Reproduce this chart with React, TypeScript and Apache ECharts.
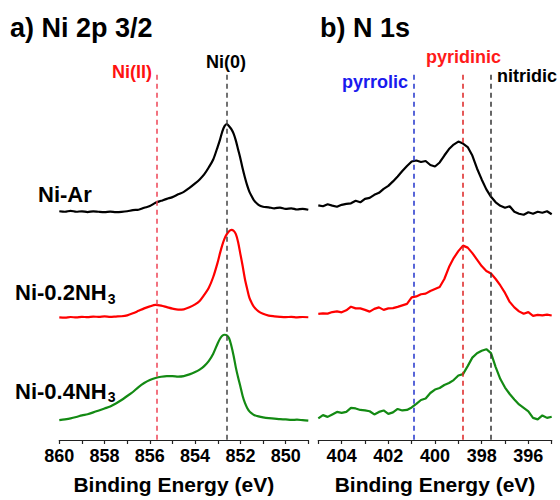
import React, { useEffect, useRef } from "react";
import * as echarts from "echarts";

// ---- Ni 2p 3/2 (binding energy, eV) ----
const niEnergy = [
  860, 859.75, 859.5, 859.25, 859, 858.75, 858.5, 858.25, 858, 857.75, 857.5, 857.25, 857,
  856.75, 856.5, 856.25, 856, 855.75, 855.5, 855.25, 855, 854.75, 854.5, 854.25, 854,
  853.8, 853.6, 853.4, 853.2, 853.0, 852.9, 852.8, 852.7, 852.6, 852.5, 852.4, 852.3,
  852.2, 852.1, 852.0, 851.9, 851.8, 851.7, 851.6, 851.5, 851.4, 851.2,
  851.0, 850.75, 850.5, 850.25, 850, 849.75, 849.5, 849.25, 849,
];
// intensities (a.u., stacked with offsets)
const niAr = [
  229.7, 229.2, 230.2, 229.2, 229.7, 228.9, 229.7, 229.2, 228.9, 229.4, 228.9, 229.1, 229.7,
  230.9, 231.2, 233.2, 234.9, 238.2, 240.2, 242.2, 243.9, 246.7, 249.2, 253.2, 257.7,
  261.7, 266.7, 273.7, 281.7, 294.7, 301.7, 309.7, 315.2, 317.2, 315.2, 312.2, 307.7,
  300.7, 291.7, 282.7, 272.7, 263.7, 255.7, 249.2, 244.7, 240.7, 236.2,
  234.2, 233.7, 232.7, 233.4, 232.2, 232.7, 231.5, 232.1, 231.2,
];
const ni02 = [
  123.2, 122.9, 123.5, 123.1, 123.7, 123.3, 123.9, 123.7, 124.1, 123.7, 124.0, 124.3, 125.2,
  127.2, 129.7, 132.2, 134.2, 135.7, 134.9, 133.4, 131.9, 130.9, 131.2, 133.2, 136.2,
  139.7, 145.7, 152.7, 163.7, 178.7, 187.7, 195.7, 202.2, 206.7, 209.7, 211.0, 210.2,
  206.7, 198.7, 186.7, 174.7, 161.7, 151.7, 142.7, 137.7, 133.7, 129.2,
  126.7, 124.9, 124.2, 123.7, 123.4, 123.7, 123.2, 123.5, 123.3,
];
const ni04 = [
  19.9, 20.7, 21.7, 23.1, 24.7, 25.9, 27.7, 29.7, 31.7, 33.7, 36.7, 40.2, 44.2,
  48.2, 53.2, 57.2, 60.2, 62.2, 63.5, 64.2, 64.2, 63.7, 64.2, 65.9, 68.2,
  70.7, 74.2, 79.2, 86.7, 97.2, 101.7, 104.7, 105.7, 105.2, 102.2, 94.7, 84.7,
  72.7, 62.7, 53.7, 44.2, 37.2, 32.2, 28.7, 26.7, 25.2, 23.7,
  22.7, 21.9, 21.5, 20.9, 20.7, 20.2, 20.4, 19.9, 19.4,
];

// ---- N 1s ----
const nEnergy = [
  405.0, 404.8, 404.6, 404.4, 404.2, 404.0, 403.8, 403.6, 403.4, 403.2,
  403.0, 402.8, 402.6, 402.4, 402.2, 402.0, 401.8, 401.6, 401.4, 401.2,
  401.0, 400.8, 400.6, 400.4, 400.2, 400.0, 399.8, 399.6, 399.4, 399.2,
  399.0, 398.8, 398.6, 398.4, 398.2, 398.0, 397.8, 397.6, 397.4, 397.2,
  397.0, 396.8, 396.6, 396.4, 396.2, 396.0, 395.8, 395.6, 395.4, 395.2, 395.0,
];
const nAr = [
  235.7, 234.7, 236.7, 235.4, 234.2, 236.2, 237.2, 237.7, 240.2, 238.7,
  242.2, 243.2, 246.2, 248.2, 252.2, 255.2, 259.7, 264.7, 270.2, 275.2,
  279.7, 280.7, 279.2, 280.2, 276.2, 274.7, 278.7, 285.7, 292.2, 296.7,
  299.7, 297.7, 294.2, 285.7, 272.7, 261.7, 251.7, 244.2, 238.7, 235.2,
  233.2, 234.7, 229.2, 227.2, 226.2, 228.7, 227.2, 229.2, 228.2, 229.7, 226.7,
];
const n02 = [
  126.7, 127.2, 126.9, 128.5, 129.2, 128.2, 130.2, 133.9, 132.2, 132.2,
  130.7, 128.9, 131.7, 133.2, 130.7, 132.2, 132.4, 133.7, 135.2, 136.7,
  143.2, 144.2, 146.4, 147.0, 149.7, 151.7, 153.7, 161.7, 173.7, 182.7,
  189.7, 195.2, 193.2, 187.7, 181.2, 174.7, 169.7, 167.2, 161.7, 155.2,
  147.7, 138.7, 133.2, 129.2, 126.7, 128.4, 124.7, 125.7, 125.2, 125.9, 125.0,
];
const n04 = [
  21.7, 25.0, 23.2, 25.7, 28.2, 27.2, 28.2, 32.2, 31.7, 30.2,
  29.7, 28.9, 25.7, 28.2, 29.7, 26.2, 27.7, 31.2, 29.7, 30.2,
  32.7, 36.2, 40.2, 41.7, 47.2, 50.7, 52.2, 55.2, 57.2, 60.2,
  64.7, 66.2, 74.2, 82.7, 87.2, 89.7, 91.2, 87.2, 73.2, 61.2,
  52.7, 46.2, 40.7, 35.7, 32.2, 28.7, 22.2, 20.7, 24.7, 22.2, 23.4,
];

// reference positions (eV)
const niRefs = [
  { name: "Ni(II)", eV: 855.7 },
  { name: "Ni(0)", eV: 852.6 },
];
const nRefs = [
  { name: "pyrrolic", eV: 400.9 },
  { name: "pyridinic", eV: 398.8 },
  { name: "nitridic", eV: 397.6 },
];
const refTop = 366.7;

const FONT = "Liberation Sans";

const zip = (xs: number[], ys: number[]) => xs.map((x, i) => [x, ys[i]]);

const vline = (eV: number, color: string) => ({
  silent: true,
  symbol: "none",
  label: { show: false },
  lineStyle: { color, width: 1.5, type: [5, 4] },
  data: [[{ coord: [eV, refTop] }, { coord: [eV, 0] }]],
});

export default function App() {
  const ref = useRef<HTMLDivElement>(null);
  useEffect(() => {
    if (!ref.current) return;
    const chart = echarts.init(ref.current, undefined, { renderer: "svg" });
    const xAxisBase = (min: number, max: number, extra: any) => ({
      type: "value",
      min,
      max,
      inverse: true,
      interval: 1,
      splitLine: { show: false },
      axisLine: { show: true, lineStyle: { color: "#222", width: 1.2 } },
      axisTick: { show: true, length: 4, lineStyle: { color: "#222", width: 1.2 } },
      axisLabel: {
        color: "#000",
        fontSize: 18,
        fontWeight: "bold",
        fontFamily: FONT,
        margin: 7,
        formatter: (v: number) => (Math.round(v) % 2 === 0 ? String(Math.round(v)) : ""),
      },
      name: "Binding Energy (eV)",
      nameLocation: "middle",
      nameGap: 34,
      nameTextStyle: { color: "#000", fontSize: 21, fontWeight: "bold", fontFamily: FONT, ...extra },
    });
    const yAxisBase = (gridIndex: number) => ({
      type: "value",
      gridIndex,
      min: 0,
      max: 400,
      show: false,
    });
    const lineSeries = (data: number[][], color: string, axis: number, smooth: number | boolean, markLine?: any) => ({
      type: "line",
      xAxisIndex: axis,
      yAxisIndex: axis,
      data,
      showSymbol: false,
      symbol: "none",
      smooth,
      lineStyle: { color, width: 2.2 },
      itemStyle: { color },
      markLine,
      silent: true,
    });
    const txt = (text: string, x: number, y: number, color: string, size: number, align = "left") => ({
      type: "text",
      x,
      y,
      style: {
        text,
        fill: color,
        fontSize: size,
        fontWeight: "bold",
        fontFamily: FONT,
        textAlign: align,
        textVerticalAlign: "middle",
      },
    });
    const subLabel = (main: string, sub: string, x: number, y: number) => ({
      type: "text",
      x,
      y,
      style: {
        text: `{a|${main}}{b|${sub}}`,
        textVerticalAlign: "middle",
        rich: {
          a: { fontSize: 22, fontWeight: "bold", fontFamily: FONT, fill: "#000", color: "#000", lineHeight: 30 },
          b: { fontSize: 14, fontWeight: "bold", fontFamily: FONT, fill: "#000", color: "#000", lineHeight: 16, padding: [12, 0, 0, 1] },
        },
      },
    });

    chart.setOption({
      animation: false,
      backgroundColor: "#fff",
      grid: [
        { left: 59.3, width: 249, top: 41.7, height: 400 },
        { left: 318.3, width: 233.4, top: 41.7, height: 400 },
      ],
      xAxis: [
        { ...xAxisBase(849, 860, { padding: [0, 20, 0, 0] }), gridIndex: 0 },
        { ...xAxisBase(395, 405, {}), gridIndex: 1 },
      ],
      yAxis: [yAxisBase(0), yAxisBase(1)],
      series: [
        lineSeries(zip(niEnergy, niAr), "#000000", 0, 0.3, vline(niRefs[0].eV, "#ee4455")),
        lineSeries(zip(niEnergy, ni02), "#ff0000", 0, 0.3, vline(niRefs[1].eV, "#444444")),
        lineSeries(zip(niEnergy, ni04), "#138a13", 0, 0.3),
        lineSeries(zip(nEnergy, nAr), "#000000", 1, false, vline(nRefs[0].eV, "#2233cc")),
        lineSeries(zip(nEnergy, n02), "#ff0000", 1, false, vline(nRefs[1].eV, "#dd2222")),
        lineSeries(zip(nEnergy, n04), "#138a13", 1, false, vline(nRefs[2].eV, "#333333")),
      ],
      graphic: [
        txt("a) Ni 2p 3/2", 10, 28, "#000", 27),
        txt("b) N 1s", 320, 28, "#000", 27),
        txt(niRefs[0].name, 152, 72, "#ff1111", 18, "right"),
        txt(niRefs[1].name, 226, 62, "#000", 18, "center"),
        txt(nRefs[0].name, 408, 82, "#1a1aee", 18, "right"),
        txt(nRefs[1].name, 463.4, 57, "#ff1a1a", 18, "center"),
        txt(nRefs[2].name, 497, 76, "#000", 18, "left"),
        txt("Ni-Ar", 38, 194, "#000", 22),
        subLabel("Ni-0.2NH", "3", 15, 292.5),
        subLabel("Ni-0.4NH", "3", 15, 391),
      ],
    });
    return () => chart.dispose();
  }, []);
  return (
    <div
      ref={ref}
      style={{ position: "fixed", left: 0, top: 0, width: 560, height: 500, background: "#fff" }}
    />
  );
}
